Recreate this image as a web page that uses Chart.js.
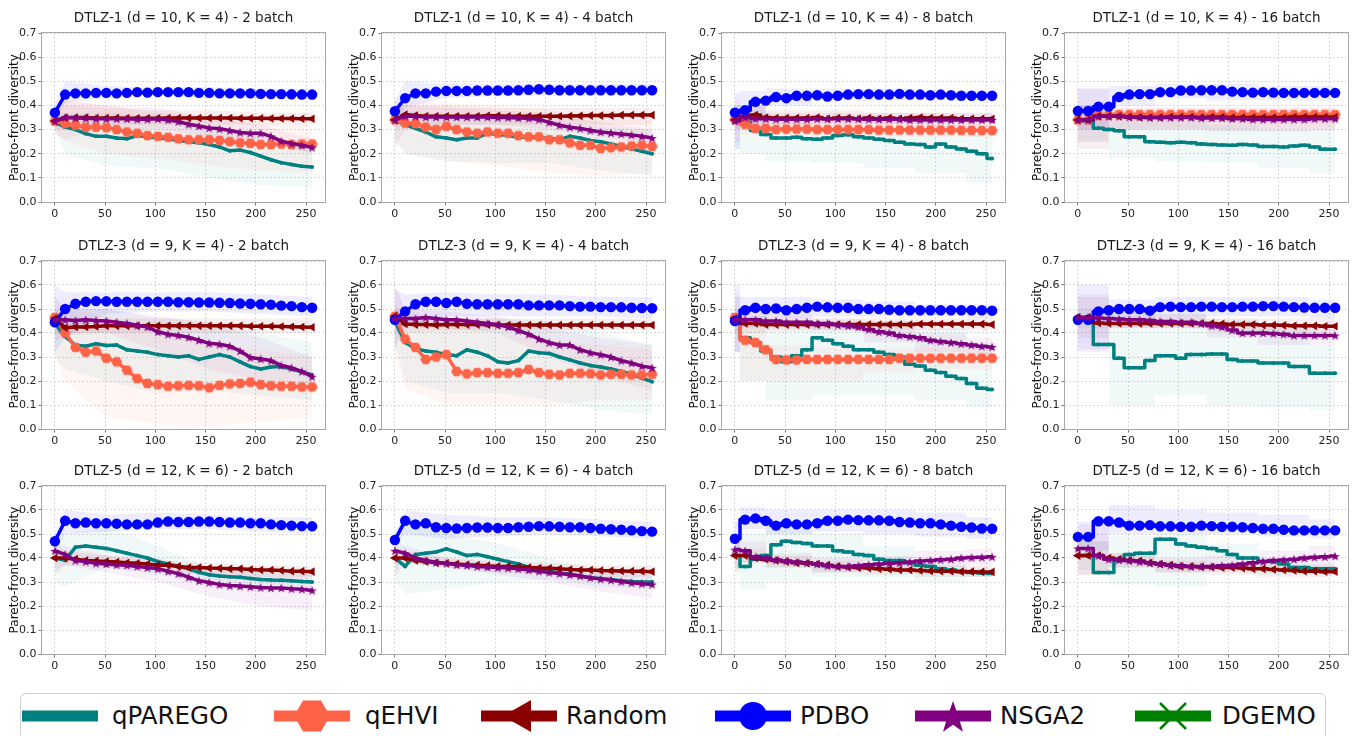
<!DOCTYPE html>
<html>
<head>
<meta charset="utf-8">
<script src="https://cdn.jsdelivr.net/npm/chart.js@4.4.1/dist/chart.umd.min.js"></script>
<style>
  body { margin: 0; width: 1355px; height: 736px; overflow: hidden; position: relative; background: #fff; font-family: "DejaVu Sans", sans-serif; }
  canvas.panel { position: absolute; }
  #legend { position: absolute; left: 20px; top: 693px; width: 1306px; height: 70px; border: 1px solid #d0d0d0; border-radius: 6px; box-sizing: border-box; }
  .lg-glyph { position: absolute; top: 696px; }
  .lg-text { position: absolute; top: 701px; font-size: 24.5px; line-height: 30px; color: #111; white-space: nowrap; }
</style>
</head>
<body>
<div id="legend"></div>
<script>
const FONT = '"DejaVu Sans", sans-serif';

// x positions of the sampled points (0..256 evaluations) and of the band outline
const xs = [0, 10.24, 20.48, 30.72, 40.96, 51.2, 61.44, 71.68, 81.92, 92.16, 102.4, 112.64, 122.88,
            133.12, 143.36, 153.6, 163.84, 174.08, 184.32, 194.56, 204.8, 215.04, 225.28, 235.52, 245.76, 256];
const bandXs = [0, 10.24, 51.2, 102.4, 153.6, 204.8, 256];
const xTicks = [0, 50, 100, 150, 200, 250];
const yTicks = [0, 0.1, 0.2, 0.3, 0.4, 0.5, 0.6, 0.7];

const methods = ['qPAREGO', 'qEHVI', 'Random', 'PDBO', 'NSGA2', 'DGEMO'];
const colors = ['#008080', '#ff6347', '#8b0000', '#0000ff', '#800080', '#008000'];
const bandColors = ['rgba(0,128,128,0.06)', 'rgba(255,99,71,0.06)', 'rgba(139,0,0,0.06)',
                    'rgba(0,0,255,0.07)', 'rgba(128,0,128,0.06)', 'rgba(0,128,0,0.06)'];

const panelTitles = [
  'DTLZ-1 (d = 10, K = 4) - 2 batch', 'DTLZ-1 (d = 10, K = 4) - 4 batch', 'DTLZ-1 (d = 10, K = 4) - 8 batch', 'DTLZ-1 (d = 10, K = 4) - 16 batch',
  'DTLZ-3 (d = 9, K = 4) - 2 batch', 'DTLZ-3 (d = 9, K = 4) - 4 batch', 'DTLZ-3 (d = 9, K = 4) - 8 batch', 'DTLZ-3 (d = 9, K = 4) - 16 batch',
  'DTLZ-5 (d = 12, K = 6) - 2 batch', 'DTLZ-5 (d = 12, K = 6) - 4 batch', 'DTLZ-5 (d = 12, K = 6) - 8 batch', 'DTLZ-5 (d = 12, K = 6) - 16 batch'
];
const panelBatch = [2, 4, 8, 16, 2, 4, 8, 16, 2, 4, 8, 16];

// ---- DTLZ-1, 2 batch
const d1b2_qparego = [0.33,0.31,0.3,0.283,0.272,0.272,0.265,0.262,0.275,0.27,0.265,0.262,0.255,0.25,0.245,0.238,0.228,0.212,0.215,0.205,0.19,0.175,0.163,0.155,0.148,0.145];
const d1b2_qehvi   = [0.335,0.325,0.318,0.31,0.31,0.308,0.3,0.29,0.285,0.275,0.272,0.268,0.262,0.258,0.258,0.258,0.255,0.25,0.245,0.243,0.238,0.238,0.24,0.238,0.24,0.24];
const d1b2_random  = [0.335,0.35,0.35,0.35,0.348,0.348,0.348,0.347,0.347,0.347,0.347,0.348,0.348,0.348,0.348,0.348,0.348,0.348,0.347,0.347,0.347,0.346,0.346,0.346,0.345,0.345];
const d1b2_pdbo    = [0.37,0.445,0.45,0.45,0.452,0.452,0.45,0.452,0.455,0.453,0.455,0.455,0.455,0.455,0.452,0.452,0.45,0.45,0.45,0.45,0.448,0.447,0.447,0.446,0.445,0.445];
const d1b2_nsga2   = [0.335,0.35,0.348,0.347,0.345,0.345,0.345,0.345,0.343,0.343,0.345,0.34,0.333,0.322,0.315,0.307,0.303,0.296,0.288,0.285,0.285,0.272,0.252,0.242,0.235,0.226];
const d1b2_bands = [
  [[0.3,0.2,0.15,0.14,0.1,0.07,0.06], [0.36,0.37,0.37,0.36,0.32,0.28,0.23]],
  [[0.3,0.25,0.2,0.18,0.15,0.13,0.12], [0.38,0.42,0.4,0.37,0.35,0.33,0.32]],
  [[0.3,0.3,0.32,0.32,0.32,0.32,0.32], [0.37,0.4,0.39,0.38,0.38,0.37,0.37]],
  [[0.33,0.41,0.43,0.44,0.43,0.43,0.42], [0.41,0.5,0.48,0.475,0.475,0.47,0.47]],
  [[0.28,0.26,0.3,0.3,0.27,0.24,0.2], [0.4,0.42,0.4,0.39,0.35,0.32,0.26]]
];

// ---- DTLZ-1, 4 batch
const d1b4_qparego = [0.34,0.32,0.305,0.29,0.27,0.265,0.258,0.265,0.265,0.285,0.28,0.275,0.268,0.268,0.265,0.265,0.258,0.272,0.265,0.255,0.25,0.24,0.23,0.22,0.21,0.2];
const d1b4_qehvi   = [0.34,0.327,0.325,0.31,0.3,0.313,0.3,0.29,0.285,0.29,0.285,0.285,0.275,0.27,0.27,0.258,0.258,0.245,0.235,0.235,0.222,0.225,0.228,0.232,0.235,0.23];
const d1b4_random  = [0.34,0.362,0.358,0.355,0.355,0.355,0.355,0.355,0.355,0.357,0.357,0.355,0.355,0.355,0.355,0.355,0.355,0.356,0.357,0.358,0.358,0.358,0.36,0.36,0.36,0.36];
const d1b4_pdbo    = [0.376,0.43,0.45,0.45,0.457,0.46,0.46,0.46,0.462,0.462,0.462,0.462,0.463,0.465,0.467,0.465,0.463,0.463,0.463,0.463,0.463,0.463,0.463,0.463,0.463,0.463];
const d1b4_nsga2   = [0.34,0.355,0.355,0.352,0.352,0.352,0.352,0.352,0.352,0.352,0.35,0.35,0.348,0.347,0.342,0.33,0.318,0.31,0.305,0.297,0.29,0.286,0.282,0.278,0.272,0.265];
const d1b4_bands = [
  [[0.26,0.2,0.17,0.16,0.16,0.13,0.11], [0.4,0.38,0.36,0.36,0.34,0.31,0.3]],
  [[0.25,0.2,0.17,0.15,0.12,0.11,0.12], [0.4,0.42,0.41,0.4,0.38,0.34,0.34]],
  [[0.3,0.32,0.32,0.32,0.32,0.32,0.32], [0.38,0.4,0.4,0.39,0.39,0.39,0.39]],
  [[0.33,0.39,0.43,0.44,0.44,0.44,0.44], [0.42,0.5,0.49,0.49,0.49,0.49,0.49]],
  [[0.22,0.3,0.32,0.32,0.3,0.27,0.24], [0.42,0.4,0.39,0.38,0.37,0.33,0.3]]
];

// ---- DTLZ-1, 8 batch
const d1b8_qparego = [0.34,0.33,0.296,0.28,0.265,0.265,0.268,0.262,0.26,0.265,0.275,0.279,0.27,0.265,0.26,0.255,0.248,0.24,0.238,0.228,0.24,0.228,0.22,0.21,0.2,0.18];
const d1b8_qehvi   = [0.342,0.322,0.305,0.305,0.3,0.302,0.302,0.302,0.3,0.3,0.3,0.3,0.3,0.3,0.298,0.298,0.298,0.298,0.298,0.298,0.298,0.298,0.297,0.297,0.296,0.296];
const d1b8_random  = [0.34,0.355,0.36,0.35,0.348,0.348,0.348,0.348,0.35,0.345,0.348,0.348,0.345,0.348,0.345,0.348,0.345,0.348,0.35,0.348,0.348,0.348,0.345,0.345,0.345,0.345];
const d1b8_pdbo    = [0.37,0.38,0.415,0.42,0.435,0.43,0.44,0.44,0.442,0.437,0.44,0.445,0.447,0.447,0.445,0.445,0.448,0.445,0.445,0.442,0.445,0.442,0.44,0.44,0.44,0.44];
const d1b8_nsga2   = [0.335,0.35,0.345,0.345,0.343,0.343,0.343,0.343,0.345,0.345,0.345,0.345,0.345,0.343,0.343,0.343,0.343,0.34,0.34,0.34,0.34,0.34,0.34,0.34,0.34,0.34];
const d1b8_bands = [
  [[0.22,0.2,0.17,0.16,0.14,0.12,0.08], [0.4,0.38,0.33,0.32,0.31,0.3,0.28]],
  [[0.3,0.28,0.28,0.27,0.27,0.27,0.27], [0.38,0.36,0.33,0.33,0.33,0.32,0.32]],
  [[0.3,0.31,0.32,0.32,0.32,0.32,0.32], [0.4,0.4,0.38,0.38,0.37,0.37,0.37]],
  [[0.22,0.33,0.4,0.42,0.42,0.42,0.42], [0.45,0.46,0.47,0.47,0.47,0.46,0.46]],
  [[0.25,0.3,0.32,0.32,0.32,0.31,0.31], [0.42,0.4,0.37,0.37,0.37,0.37,0.37]]
];

// ---- DTLZ-1, 16 batch
const d1b16_qparego = [0.335,0.335,0.305,0.3,0.295,0.27,0.27,0.25,0.247,0.245,0.248,0.245,0.24,0.238,0.236,0.235,0.238,0.236,0.23,0.23,0.228,0.232,0.235,0.228,0.218,0.218];
const d1b16_qehvi   = [0.34,0.34,0.36,0.36,0.362,0.362,0.362,0.362,0.362,0.362,0.362,0.362,0.362,0.362,0.362,0.362,0.362,0.362,0.362,0.362,0.362,0.362,0.362,0.362,0.362,0.362];
const d1b16_random  = [0.34,0.34,0.355,0.355,0.355,0.352,0.35,0.35,0.35,0.352,0.352,0.352,0.35,0.352,0.352,0.35,0.35,0.35,0.35,0.35,0.35,0.352,0.352,0.352,0.352,0.352];
const d1b16_pdbo    = [0.377,0.377,0.395,0.395,0.435,0.445,0.447,0.447,0.455,0.455,0.462,0.462,0.463,0.463,0.463,0.457,0.455,0.453,0.455,0.453,0.452,0.452,0.452,0.452,0.452,0.452];
const d1b16_nsga2   = [0.34,0.34,0.355,0.355,0.355,0.352,0.352,0.35,0.35,0.35,0.35,0.35,0.348,0.348,0.348,0.345,0.345,0.342,0.342,0.342,0.342,0.342,0.342,0.345,0.345,0.345];
const d1b16_bands = [
  [[0.25,0.25,0.18,0.17,0.16,0.14,0.12], [0.4,0.4,0.33,0.33,0.32,0.3,0.29]],
  [[0.3,0.3,0.33,0.33,0.33,0.33,0.33], [0.4,0.4,0.39,0.39,0.39,0.39,0.39]],
  [[0.22,0.22,0.3,0.3,0.3,0.3,0.3], [0.4,0.4,0.38,0.38,0.38,0.38,0.38]],
  [[0.3,0.3,0.4,0.43,0.42,0.42,0.42], [0.47,0.47,0.48,0.49,0.49,0.48,0.48]],
  [[0.25,0.25,0.3,0.3,0.29,0.29,0.29], [0.47,0.47,0.39,0.39,0.39,0.39,0.39]]
];

// ---- DTLZ-3, 2 batch
const d3b2_qparego = [0.44,0.385,0.35,0.345,0.355,0.348,0.35,0.33,0.325,0.32,0.31,0.305,0.3,0.305,0.29,0.3,0.31,0.3,0.28,0.26,0.25,0.258,0.26,0.25,0.238,0.225];
const d3b2_qehvi   = [0.465,0.4,0.34,0.32,0.325,0.295,0.28,0.245,0.21,0.19,0.185,0.178,0.18,0.182,0.18,0.172,0.182,0.188,0.19,0.195,0.185,0.18,0.178,0.178,0.175,0.175];
const d3b2_random  = [0.46,0.422,0.425,0.425,0.427,0.43,0.43,0.43,0.43,0.43,0.43,0.43,0.43,0.43,0.43,0.43,0.43,0.43,0.43,0.428,0.428,0.428,0.427,0.426,0.425,0.424];
const d3b2_pdbo    = [0.445,0.5,0.522,0.53,0.533,0.532,0.53,0.53,0.53,0.53,0.53,0.53,0.528,0.528,0.527,0.527,0.526,0.525,0.523,0.522,0.52,0.518,0.514,0.512,0.508,0.505];
const d3b2_nsga2   = [0.455,0.455,0.452,0.455,0.452,0.45,0.445,0.44,0.432,0.425,0.405,0.395,0.39,0.382,0.37,0.357,0.353,0.345,0.325,0.298,0.292,0.285,0.265,0.255,0.24,0.218];
const d3b2_bands = [
  [[0.3,0.25,0.2,0.15,0.16,0.14,0.12], [0.5,0.5,0.5,0.46,0.45,0.4,0.36]],
  [[0.3,0.2,0.05,0.02,0.01,0.03,0.05], [0.55,0.5,0.47,0.4,0.35,0.33,0.3]],
  [[0.4,0.39,0.4,0.4,0.4,0.4,0.4], [0.5,0.46,0.46,0.46,0.46,0.46,0.46]],
  [[0.32,0.38,0.48,0.49,0.49,0.48,0.47], [0.6,0.57,0.57,0.57,0.57,0.56,0.55]],
  [[0.36,0.4,0.4,0.33,0.25,0.2,0.15], [0.55,0.5,0.5,0.47,0.44,0.38,0.3]]
];

// ---- DTLZ-3, 4 batch
const d3b4_qparego = [0.45,0.36,0.335,0.325,0.32,0.31,0.305,0.33,0.32,0.305,0.28,0.275,0.285,0.325,0.318,0.315,0.3,0.288,0.275,0.265,0.258,0.25,0.24,0.228,0.212,0.197];
const d3b4_qehvi   = [0.47,0.375,0.34,0.29,0.3,0.31,0.24,0.23,0.235,0.235,0.232,0.232,0.235,0.248,0.235,0.228,0.225,0.232,0.232,0.23,0.225,0.228,0.228,0.225,0.225,0.228];
const d3b4_random  = [0.47,0.438,0.435,0.435,0.433,0.435,0.435,0.435,0.435,0.435,0.433,0.433,0.433,0.433,0.433,0.433,0.433,0.433,0.433,0.433,0.433,0.433,0.433,0.433,0.433,0.433];
const d3b4_pdbo    = [0.455,0.49,0.52,0.53,0.53,0.525,0.53,0.522,0.52,0.52,0.52,0.52,0.52,0.515,0.515,0.515,0.515,0.512,0.51,0.51,0.508,0.508,0.507,0.505,0.504,0.503];
const d3b4_nsga2   = [0.46,0.46,0.46,0.465,0.46,0.455,0.455,0.45,0.445,0.44,0.435,0.425,0.41,0.395,0.375,0.36,0.35,0.35,0.33,0.318,0.31,0.3,0.285,0.275,0.262,0.255];
const d3b4_bands = [
  [[0.35,0.2,0.15,0.15,0.12,0.08,0.06], [0.5,0.48,0.46,0.46,0.45,0.4,0.35]],
  [[0.3,0.17,0.1,0.1,0.1,0.12,0.12], [0.6,0.5,0.45,0.4,0.37,0.35,0.33]],
  [[0.4,0.4,0.41,0.41,0.41,0.41,0.41], [0.52,0.47,0.46,0.46,0.46,0.46,0.46]],
  [[0.33,0.43,0.47,0.47,0.47,0.47,0.46], [0.58,0.56,0.57,0.56,0.56,0.55,0.55]],
  [[0.35,0.42,0.42,0.4,0.3,0.22,0.16], [0.6,0.5,0.49,0.47,0.42,0.38,0.35]]
];

// ---- DTLZ-3, 8 batch
const d3b8_qparego = [0.465,0.38,0.36,0.325,0.3,0.28,0.305,0.33,0.38,0.37,0.355,0.345,0.33,0.33,0.32,0.31,0.3,0.27,0.262,0.245,0.235,0.22,0.21,0.19,0.17,0.165];
const d3b8_qehvi   = [0.465,0.37,0.36,0.33,0.29,0.288,0.288,0.29,0.29,0.29,0.29,0.29,0.29,0.29,0.29,0.29,0.295,0.295,0.295,0.295,0.295,0.295,0.295,0.295,0.295,0.295];
const d3b8_random  = [0.46,0.44,0.44,0.435,0.435,0.435,0.435,0.435,0.435,0.435,0.435,0.435,0.435,0.435,0.435,0.435,0.435,0.435,0.437,0.437,0.437,0.437,0.437,0.437,0.437,0.435];
const d3b8_pdbo    = [0.45,0.495,0.505,0.5,0.502,0.495,0.5,0.505,0.51,0.507,0.505,0.505,0.5,0.5,0.5,0.497,0.495,0.495,0.495,0.495,0.495,0.495,0.495,0.495,0.495,0.493];
const d3b8_nsga2   = [0.455,0.455,0.455,0.45,0.45,0.445,0.445,0.445,0.44,0.44,0.435,0.43,0.425,0.415,0.405,0.4,0.39,0.385,0.38,0.37,0.365,0.36,0.355,0.35,0.345,0.342];
const d3b8_bands = [
  [[0.32,0.2,0.12,0.14,0.14,0.12,0.09], [0.55,0.47,0.43,0.45,0.45,0.42,0.36]],
  [[0.4,0.2,0.2,0.2,0.24,0.25,0.25], [0.5,0.45,0.35,0.34,0.34,0.34,0.34]],
  [[0.4,0.4,0.41,0.41,0.41,0.41,0.41], [0.5,0.47,0.46,0.46,0.46,0.46,0.46]],
  [[0.32,0.46,0.46,0.47,0.47,0.47,0.46], [0.6,0.55,0.55,0.54,0.53,0.52,0.52]],
  [[0.32,0.42,0.42,0.41,0.36,0.32,0.3], [0.56,0.49,0.48,0.46,0.44,0.4,0.38]]
];

// ---- DTLZ-3, 16 batch (no qEHVI run)
const d3b16_qparego = [0.465,0.465,0.352,0.352,0.295,0.255,0.255,0.285,0.305,0.305,0.295,0.31,0.31,0.312,0.312,0.29,0.283,0.283,0.275,0.275,0.275,0.26,0.26,0.232,0.232,0.232];
const d3b16_random  = [0.465,0.465,0.442,0.44,0.44,0.44,0.44,0.44,0.44,0.44,0.44,0.44,0.44,0.44,0.438,0.435,0.435,0.435,0.433,0.433,0.432,0.43,0.43,0.43,0.428,0.428];
const d3b16_pdbo    = [0.455,0.455,0.49,0.495,0.5,0.5,0.5,0.493,0.508,0.51,0.508,0.508,0.51,0.51,0.508,0.508,0.51,0.51,0.512,0.512,0.51,0.508,0.506,0.505,0.505,0.505];
const d3b16_nsga2   = [0.465,0.465,0.462,0.46,0.458,0.455,0.455,0.452,0.448,0.448,0.445,0.445,0.44,0.43,0.425,0.412,0.4,0.4,0.4,0.398,0.395,0.39,0.39,0.39,0.39,0.39];
const d3b16_bands = [
  [[0.42,0.42,0.1,0.14,0.1,0.09,0.08], [0.5,0.5,0.5,0.48,0.46,0.42,0.35]],
  null,
  [[0.38,0.38,0.42,0.42,0.41,0.4,0.4], [0.55,0.55,0.47,0.47,0.46,0.46,0.46]],
  [[0.33,0.33,0.44,0.47,0.47,0.47,0.46], [0.6,0.6,0.54,0.55,0.55,0.55,0.54]],
  [[0.32,0.32,0.42,0.42,0.38,0.35,0.35], [0.56,0.56,0.5,0.48,0.45,0.43,0.43]]
];

// ---- DTLZ-5, 2 batch (no qEHVI run)
const d5b2_qparego = [0.4,0.39,0.445,0.45,0.445,0.44,0.43,0.42,0.41,0.4,0.385,0.375,0.365,0.355,0.34,0.33,0.325,0.322,0.32,0.315,0.31,0.308,0.307,0.305,0.302,0.3];
const d5b2_random  = [0.4,0.4,0.395,0.39,0.388,0.385,0.383,0.38,0.378,0.375,0.37,0.37,0.365,0.36,0.36,0.358,0.357,0.355,0.355,0.352,0.35,0.35,0.348,0.345,0.345,0.343];
const d5b2_pdbo    = [0.47,0.555,0.545,0.548,0.545,0.545,0.543,0.54,0.54,0.54,0.548,0.552,0.55,0.55,0.552,0.552,0.55,0.548,0.548,0.545,0.545,0.54,0.537,0.535,0.533,0.532];
const d5b2_nsga2   = [0.43,0.415,0.39,0.385,0.378,0.375,0.372,0.37,0.365,0.36,0.355,0.345,0.335,0.32,0.305,0.298,0.29,0.285,0.283,0.28,0.277,0.275,0.275,0.272,0.27,0.265];
const d5b2_bands = [
  [[0.3,0.28,0.36,0.33,0.3,0.28,0.27], [0.5,0.5,0.53,0.45,0.36,0.34,0.33]],
  null,
  [[0.33,0.37,0.36,0.34,0.33,0.32,0.32], [0.45,0.43,0.41,0.39,0.38,0.37,0.37]],
  [[0.43,0.5,0.51,0.52,0.52,0.51,0.5], [0.5,0.6,0.58,0.59,0.58,0.57,0.57]],
  [[0.35,0.37,0.34,0.3,0.24,0.2,0.18], [0.46,0.45,0.41,0.4,0.35,0.34,0.33]]
];

// ---- DTLZ-5, 4 batch (no qEHVI run)
const d5b4_qparego = [0.4,0.365,0.415,0.42,0.425,0.438,0.425,0.41,0.415,0.405,0.395,0.385,0.375,0.362,0.35,0.345,0.338,0.333,0.325,0.318,0.315,0.31,0.305,0.302,0.3,0.3];
const d5b4_random  = [0.4,0.4,0.39,0.385,0.38,0.378,0.375,0.372,0.37,0.368,0.365,0.365,0.362,0.36,0.358,0.357,0.355,0.352,0.35,0.35,0.348,0.347,0.346,0.345,0.345,0.343];
const d5b4_pdbo    = [0.475,0.555,0.54,0.545,0.528,0.525,0.523,0.525,0.527,0.527,0.525,0.525,0.528,0.53,0.533,0.532,0.53,0.528,0.528,0.525,0.522,0.52,0.518,0.515,0.512,0.51];
const d5b4_nsga2   = [0.43,0.42,0.4,0.39,0.382,0.378,0.372,0.37,0.365,0.362,0.36,0.358,0.355,0.35,0.345,0.34,0.335,0.33,0.325,0.318,0.312,0.308,0.302,0.297,0.293,0.29];
const d5b4_bands = [
  [[0.3,0.25,0.27,0.3,0.31,0.28,0.27], [0.5,0.58,0.5,0.46,0.4,0.35,0.33]],
  null,
  [[0.32,0.38,0.36,0.34,0.33,0.32,0.32], [0.45,0.43,0.4,0.39,0.38,0.37,0.37]],
  [[0.45,0.5,0.48,0.49,0.5,0.49,0.48], [0.5,0.6,0.58,0.57,0.57,0.56,0.55]],
  [[0.36,0.38,0.36,0.33,0.3,0.26,0.23], [0.47,0.45,0.4,0.38,0.37,0.35,0.34]]
];

// ---- DTLZ-5, 8 batch (no qEHVI run)
const d5b8_qparego = [0.41,0.365,0.395,0.41,0.455,0.47,0.465,0.46,0.45,0.45,0.43,0.425,0.415,0.41,0.395,0.39,0.39,0.38,0.37,0.365,0.355,0.35,0.345,0.34,0.337,0.335];
const d5b8_random  = [0.41,0.41,0.4,0.395,0.39,0.385,0.38,0.378,0.375,0.37,0.365,0.362,0.36,0.358,0.355,0.353,0.35,0.35,0.348,0.346,0.345,0.345,0.343,0.343,0.342,0.342];
const d5b8_pdbo    = [0.48,0.56,0.565,0.555,0.535,0.545,0.54,0.54,0.545,0.555,0.555,0.56,0.558,0.557,0.557,0.555,0.55,0.548,0.545,0.545,0.54,0.535,0.53,0.527,0.523,0.522];
const d5b8_nsga2   = [0.435,0.43,0.405,0.4,0.392,0.388,0.383,0.38,0.375,0.368,0.365,0.365,0.368,0.372,0.375,0.378,0.38,0.383,0.388,0.39,0.393,0.395,0.4,0.402,0.403,0.405];
const d5b8_bands = [
  [[0.35,0.27,0.3,0.32,0.32,0.3,0.32], [0.45,0.5,0.55,0.5,0.45,0.38,0.36]],
  null,
  [[0.34,0.38,0.36,0.34,0.33,0.32,0.32], [0.47,0.44,0.41,0.39,0.38,0.37,0.37]],
  [[0.42,0.52,0.5,0.51,0.5,0.49,0.48], [0.55,0.61,0.6,0.6,0.6,0.59,0.57]],
  [[0.36,0.38,0.36,0.34,0.35,0.36,0.37], [0.5,0.47,0.42,0.4,0.41,0.43,0.44]]
];

// ---- DTLZ-5, 16 batch (no qEHVI run)
const d5b16_qparego = [0.41,0.41,0.34,0.34,0.39,0.415,0.42,0.42,0.478,0.478,0.458,0.45,0.445,0.44,0.43,0.415,0.4,0.4,0.385,0.385,0.375,0.36,0.36,0.355,0.355,0.355];
const d5b16_random  = [0.41,0.41,0.41,0.4,0.395,0.39,0.388,0.38,0.375,0.37,0.365,0.365,0.363,0.362,0.36,0.36,0.358,0.355,0.355,0.352,0.35,0.348,0.345,0.345,0.343,0.343];
const d5b16_pdbo    = [0.488,0.488,0.553,0.553,0.548,0.535,0.535,0.537,0.532,0.532,0.53,0.53,0.535,0.533,0.53,0.53,0.528,0.525,0.522,0.522,0.518,0.515,0.515,0.515,0.515,0.515];
const d5b16_nsga2   = [0.44,0.44,0.41,0.395,0.392,0.39,0.385,0.38,0.375,0.37,0.368,0.365,0.365,0.365,0.368,0.37,0.375,0.38,0.385,0.39,0.392,0.395,0.4,0.403,0.405,0.408];
const d5b16_bands = [
  [[0.35,0.35,0.29,0.28,0.36,0.33,0.34], [0.47,0.47,0.49,0.5,0.46,0.4,0.38]],
  null,
  [[0.33,0.33,0.36,0.34,0.33,0.32,0.32], [0.47,0.47,0.42,0.39,0.38,0.37,0.37]],
  [[0.43,0.43,0.5,0.5,0.5,0.49,0.48], [0.55,0.55,0.62,0.6,0.59,0.58,0.56]],
  [[0.33,0.33,0.36,0.34,0.34,0.35,0.36], [0.54,0.54,0.42,0.4,0.41,0.43,0.45]]
];

// series per panel in legend order: qPAREGO, qEHVI, Random, PDBO, NSGA2
const panelSeries = [
  [d1b2_qparego, d1b2_qehvi, d1b2_random, d1b2_pdbo, d1b2_nsga2],
  [d1b4_qparego, d1b4_qehvi, d1b4_random, d1b4_pdbo, d1b4_nsga2],
  [d1b8_qparego, d1b8_qehvi, d1b8_random, d1b8_pdbo, d1b8_nsga2],
  [d1b16_qparego, d1b16_qehvi, d1b16_random, d1b16_pdbo, d1b16_nsga2],
  [d3b2_qparego, d3b2_qehvi, d3b2_random, d3b2_pdbo, d3b2_nsga2],
  [d3b4_qparego, d3b4_qehvi, d3b4_random, d3b4_pdbo, d3b4_nsga2],
  [d3b8_qparego, d3b8_qehvi, d3b8_random, d3b8_pdbo, d3b8_nsga2],
  [d3b16_qparego, null, d3b16_random, d3b16_pdbo, d3b16_nsga2],
  [d5b2_qparego, null, d5b2_random, d5b2_pdbo, d5b2_nsga2],
  [d5b4_qparego, null, d5b4_random, d5b4_pdbo, d5b4_nsga2],
  [d5b8_qparego, null, d5b8_random, d5b8_pdbo, d5b8_nsga2],
  [d5b16_qparego, null, d5b16_random, d5b16_pdbo, d5b16_nsga2]
];
const panelBands = [d1b2_bands, d1b4_bands, d1b8_bands, d1b16_bands, d3b2_bands, d3b4_bands,
                    d3b8_bands, d3b16_bands, d5b2_bands, d5b4_bands, d5b8_bands, d5b16_bands];

// layout of the grid (plot-area corners measured on the figure)
const plotLeft = [42, 382, 722, 1065];
const plotTop = [33, 261, 486];
const plotH = [169, 168, 168];
const PLOT_W = 283, Y_W = 42, TITLE_H = 33, X_H = 24, PAD_R = 8;

// marker images for the shapes Chart.js lacks
function hexagonImage(color, r) {
  const s = Math.ceil(r * 2 + 2);
  const c = document.createElement('canvas');
  c.width = s; c.height = s;
  drawHexagon(c.getContext('2d'), s / 2, s / 2, r, color);
  return c;
}
function starImage(color, r) {
  const s = Math.ceil(r * 2 + 2);
  const c = document.createElement('canvas');
  c.width = s; c.height = s;
  drawStar(c.getContext('2d'), s / 2, s / 2 + r * 0.1, r, color);
  return c;
}
function drawHexagon(g, cx, cy, r, color) {
  g.fillStyle = color;
  g.beginPath();
  for (let k = 0; k < 6; k++) {
    const a = Math.PI / 3 * k;
    const px = cx + r * Math.cos(a), py = cy + r * Math.sin(a);
    if (k) g.lineTo(px, py); else g.moveTo(px, py);
  }
  g.closePath();
  g.fill();
}
function drawStar(g, cx, cy, r, color) {
  g.fillStyle = color;
  g.beginPath();
  for (let k = 0; k < 10; k++) {
    const rr = k % 2 ? r * 0.4 : r;
    const a = -Math.PI / 2 + Math.PI / 5 * k;
    const px = cx + rr * Math.cos(a), py = cy + rr * Math.sin(a);
    if (k) g.lineTo(px, py); else g.moveTo(px, py);
  }
  g.closePath();
  g.fill();
}

const markerStyles = [
  { pointStyle: 'circle', pointRadius: 2, pointRotation: 0 },
  { pointStyle: hexagonImage(colors[1], 5.5), pointRadius: 5, pointRotation: 0 },
  { pointStyle: 'triangle', pointRadius: 5, pointRotation: -90 },
  { pointStyle: 'circle', pointRadius: 5.2, pointRotation: 0 },
  { pointStyle: starImage(colors[4], 5), pointRadius: 5, pointRotation: 0 },
  { pointStyle: 'crossRot', pointRadius: 6, pointRotation: 0 }
];

// axis frame on all four sides (like matplotlib spines) and the title centred over the plot area
const framePlugin = {
  id: 'frame',
  afterDatasetsDraw(chart) {
    const { ctx, chartArea: a } = chart;
    ctx.save();
    ctx.strokeStyle = '#a8a8a8';
    ctx.lineWidth = 1;
    ctx.strokeRect(Math.round(a.left) - 0.5, Math.round(a.top) - 0.5, Math.round(a.right - a.left) + 1, Math.round(a.bottom - a.top) + 1);
    ctx.restore();
  }
};
const panelTitlePlugin = {
  id: 'panelTitle',
  afterDraw(chart, args, opts) {
    const { ctx, chartArea: a } = chart;
    ctx.save();
    ctx.font = '13.5px ' + FONT;
    ctx.fillStyle = '#1a1a1a';
    ctx.textAlign = 'center';
    ctx.textBaseline = 'middle';
    ctx.fillText(opts.text, (a.left + a.right) / 2, a.top - 15);
    ctx.restore();
  }
};

function buildPanel(idx) {
  const r = Math.floor(idx / 4), c = idx % 4;
  const W = Y_W + PLOT_W + PAD_R, H = TITLE_H + plotH[r] + X_H;
  const canvas = document.createElement('canvas');
  canvas.className = 'panel';
  canvas.width = W; canvas.height = H;
  canvas.style.left = (plotLeft[c] - Y_W) + 'px';
  canvas.style.top = (plotTop[r] - TITLE_H) + 'px';
  canvas.style.width = W + 'px'; canvas.style.height = H + 'px';
  document.body.appendChild(canvas);

  const stepped = panelBatch[idx] >= 8 ? 'middle' : false;
  const datasets = [];
  panelSeries[idx].forEach((vals, i) => {
    if (!vals) return;
    const band = panelBands[idx][i];
    datasets.push({
      data: bandXs.map((x, k) => ({ x, y: band[1][k] })),
      borderColor: 'transparent', borderWidth: 0, pointRadius: 0, fill: false,
      stepped, order: 100 - i
    });
    datasets.push({
      data: bandXs.map((x, k) => ({ x, y: band[0][k] })),
      borderColor: 'transparent', borderWidth: 0, pointRadius: 0, fill: '-1',
      backgroundColor: bandColors[i], stepped, order: 100 - i
    });
    const m = markerStyles[i];
    datasets.push({
      label: methods[i],
      data: xs.map((x, k) => ({ x, y: vals[k] })),
      borderColor: colors[i], backgroundColor: colors[i],
      borderWidth: 3.5, borderJoinStyle: 'round', fill: false, tension: 0, stepped,
      pointStyle: m.pointStyle, pointRadius: m.pointRadius, pointRotation: m.pointRotation,
      pointBackgroundColor: colors[i], pointBorderColor: colors[i], pointBorderWidth: 0,
      order: 10 - i
    });
  });

  const gridOpts = { color: '#d0d0d0', lineWidth: 0.8, tickColor: '#555', tickLength: 3.5, tickWidth: 0.8, tickBorderDash: [] };

  new Chart(canvas, {
    type: 'line',
    data: { datasets },
    plugins: [framePlugin, panelTitlePlugin],
    options: {
      responsive: false, animation: false, events: [],
      layout: { padding: { left: 0, right: PAD_R, top: TITLE_H, bottom: 0 } },
      plugins: {
        legend: { display: false },
        tooltip: { enabled: false },
        title: { display: false },
        panelTitle: { text: panelTitles[idx] }
      },
      scales: {
        x: {
          type: 'linear', min: -12.8, max: 268.8,
          afterBuildTicks: s => { s.ticks = xTicks.map(v => ({ value: v })); },
          afterFit: s => { s.height = X_H; },
          ticks: { color: '#222', font: { family: FONT, size: 11 }, padding: 2, maxRotation: 0, autoSkip: false, callback: v => String(v) },
          grid: gridOpts,
          border: { display: false, dash: [2, 2] }
        },
        y: {
          min: 0, max: 0.7,
          afterBuildTicks: s => { s.ticks = yTicks.map(v => ({ value: v })); },
          afterFit: s => { s.width = Y_W; },
          ticks: { color: '#222', font: { family: FONT, size: 11 }, padding: 2, autoSkip: false, callback: v => Number(v).toFixed(1) },
          grid: gridOpts,
          border: { display: false, dash: [2, 2] },
          title: { display: true, text: 'Pareto-front diversity', color: '#111', font: { family: FONT, size: 12 }, padding: { top: 8, bottom: 0 } }
        }
      }
    }
  });
}

for (let i = 0; i < 12; i++) buildPanel(i);

// ---- legend (line handle + big marker, then label)
const legendGlyphX = [20, 272, 479, 713, 913, 1133];
const legendTextX = [112, 365, 566, 800, 1000, 1222];

function drawLegendGlyph(g, i) {
  const cy = 20, cx = 40, col = colors[i];
  g.fillStyle = col;
  g.fillRect(2, cy - 5.5, 76, 11);
  if (i === 0) {
    g.beginPath(); g.arc(cx, cy, 3.5, 0, Math.PI * 2); g.fill();
  } else if (i === 1) {
    drawHexagon(g, cx, cy, 18, col);
  } else if (i === 2) {
    g.beginPath(); g.moveTo(cx - 16, cy); g.lineTo(cx + 12, cy - 16); g.lineTo(cx + 12, cy + 16); g.closePath(); g.fill();
  } else if (i === 3) {
    g.beginPath(); g.arc(cx, cy, 14, 0, Math.PI * 2); g.fill();
  } else if (i === 4) {
    drawStar(g, cx, cy + 2, 17, col);
  } else {
    g.strokeStyle = col; g.lineWidth = 2.5;
    g.beginPath(); g.moveTo(cx - 13, cy - 13); g.lineTo(cx + 13, cy + 13);
    g.moveTo(cx - 13, cy + 13); g.lineTo(cx + 13, cy - 13); g.stroke();
  }
}

methods.forEach((name, i) => {
  const cv = document.createElement('canvas');
  cv.className = 'lg-glyph';
  cv.width = 80; cv.height = 40;
  cv.style.left = legendGlyphX[i] + 'px';
  document.body.appendChild(cv);
  drawLegendGlyph(cv.getContext('2d'), i);
  const t = document.createElement('div');
  t.className = 'lg-text';
  t.style.left = legendTextX[i] + 'px';
  t.textContent = name;
  document.body.appendChild(t);
});
</script>
</body>
</html>
